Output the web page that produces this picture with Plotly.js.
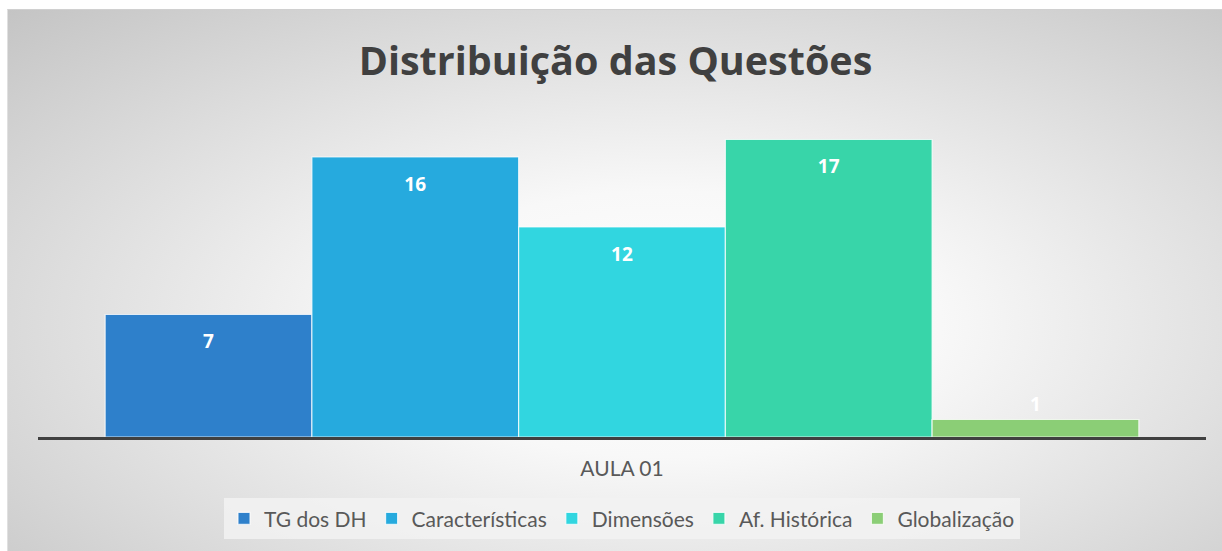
<!DOCTYPE html>
<html>
<head>
<meta charset="utf-8">
<script src="https://cdn.plot.ly/plotly-3.0.1.min.js"></script>
<style>
  html, body { margin: 0; padding: 0; background: #ffffff; }
  #wrap {
    position: absolute; left: 7px; top: 9px; width: 1215px; height: 542px;
    border-top: 1px solid #d0d0d0; border-left: 1px solid #e0e0e0;
    box-sizing: border-box;
    background: radial-gradient(ellipse farthest-corner at 54% 58%, #ffffff 0%, #f8f8f8 30%, #c4c4c4 100%);
  }
  #chart { width: 100%; height: 100%; }
</style>
</head>
<body>
<div id="wrap"><div id="chart"></div></div>
<script>
const categories = ["AULA 01"];
const seriesNames = ["TG dos DH", "Características", "Dimensões", "Af. Histórica", "Globalização"];
const seriesValues = [[7], [16], [12], [17], [1]];
const seriesColors = ["#2E80CB", "#26AADE", "#31D6E0", "#38D5A9", "#8BCE76"];

const traces = seriesNames.map((name, i) => {
  const small = seriesValues[i][0] < 3;
  return {
    type: "bar",
    name: name,
    x: categories,
    y: seriesValues[i],
    marker: { color: seriesColors[i], line: { color: "rgba(255,255,255,0.75)", width: 1.2 } },
    text: seriesValues[i].map(String),
    texttemplate: small ? "%{text}" : "<span style='font-size:6px'>\u00a0</span><br>%{text}",
    textposition: small ? "outside" : "inside",
    insidetextanchor: "end",
    textfont: { family: "Open Sans", size: 19, color: "#ffffff", weight: "bold" },
    outsidetextfont: { family: "Open Sans", size: 19, color: "#ffffff", weight: "bold" },
    cliponaxis: false,
    hoverinfo: "skip"
  };
});

const layout = {
  width: 1215, height: 542,
  paper_bgcolor: "rgba(0,0,0,0)",
  plot_bgcolor: "rgba(0,0,0,0)",
  margin: { l: 30, r: 17, t: 76.5, b: 114.5 },
  barmode: "group",
  bargap: 0.115,
  bargroupgap: 0,
  title: {
    text: "<b>Distribuição das Questões</b>",
    font: { family: "Open Sans", size: 39.5, color: "#404040" },
    x: 0.5, xanchor: "center",
    y: 0.906, yanchor: "middle", yref: "container"
  },
  xaxis: {
    type: "category",
    showline: true, linecolor: "#404040", linewidth: 3,
    showgrid: false, zeroline: false,
    ticks: "", ticklabelstandoff: 11,
    tickfont: { family: "Lato", size: 21, color: "#595959" }
  },
  yaxis: {
    range: [0, 20],
    showticklabels: false, showgrid: false, zeroline: false, showline: false
  },
  showlegend: true,
  legend: {
    orientation: "h",
    x: 0.5, xanchor: "center",
    y: -0.175, yanchor: "top",
    bgcolor: "rgba(242,242,242,0.85)",
    borderwidth: 0,
    font: { family: "Lato", size: 21, color: "#595959" },
    itemwidth: 30,
    traceorder: "normal"
  }
};

Plotly.newPlot("chart", traces, layout, { displayModeBar: false, staticPlot: true });
</script>
</body>
</html>
